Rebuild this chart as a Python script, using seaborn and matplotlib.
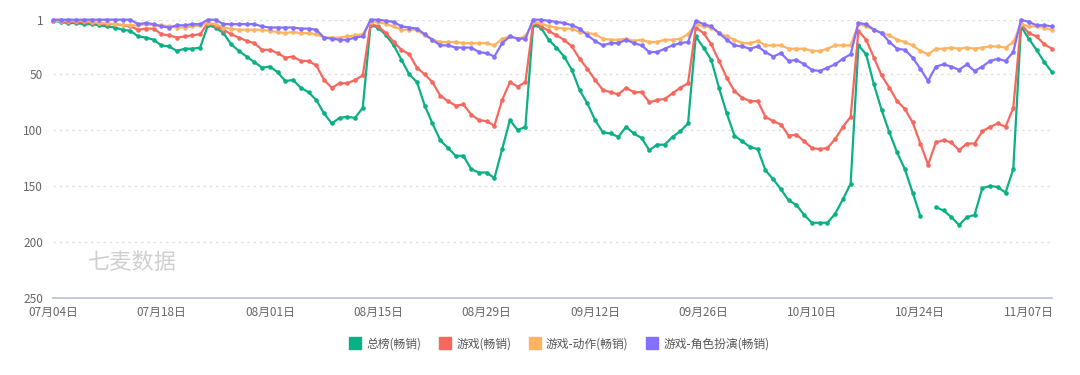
import numpy as np
import pandas as pd
import seaborn as sns
import matplotlib.pyplot as plt
from matplotlib.lines import Line2D

# daily ranks, 07-04 .. 11-10 (130 days), smaller = better
dates = pd.date_range("2021-07-04", "2021-11-10", freq="D")

series_names = ["总榜(畅销)", "游戏(畅销)", "游戏-动作(畅销)", "游戏-角色扮演(畅销)"]
colors = ["#0bb084", "#f6685e", "#fdb462", "#8470ff"]

rank_total = [
    2, 3, 4, 4, 5, 5, 6, 7, 8, 10,
    11, 16, 17, 19, 24, 25, 29, 27, 27, 26,
    6, 8, 13, 23, 29, 34, 39, 44, 43, 48,
    56, 55, 62, 66, 73, 85, 94, 89, 88, 89,
    80, 6, 8, 15, 24, 37, 50, 57, 78, 94,
    109, 116, 123, 123, 135, 138, 138, 143, 117, 91,
    100, 97, 6, 8, 19, 26, 34, 46, 64, 76,
    91, 102, 103, 106, 97, 103, 107, 118, 113, 113,
    106, 101, 94, 16, 26, 37, 62, 85, 105, 110,
    115, 117, 136, 144, 153, 163, 167, 176, 183, 183,
    183, 175, 162, 148, 24, 32, 59, 82, 102, 120,
    135, 156, 177, np.nan, 169, 172, 178, 185, 178, 176,
    152, 150, 151, 156, 135, 7, 18, 28, 39, 48,
]
rank_game = [
    2, 2, 3, 3, 3, 4, 4, 5, 5, 6,
    7, 10, 9, 9, 14, 15, 17, 16, 15, 14,
    4, 7, 10, 14, 17, 20, 22, 28, 28, 31,
    35, 34, 38, 38, 42, 55, 62, 58, 58, 55,
    51, 5, 7, 13, 21, 28, 32, 44, 50, 57,
    69, 74, 78, 77, 86, 91, 92, 96, 73, 57,
    61, 57, 4, 7, 11, 15, 19, 25, 36, 45,
    55, 64, 66, 68, 62, 66, 66, 75, 73, 72,
    67, 62, 58, 8, 13, 23, 38, 53, 65, 71,
    74, 74, 88, 92, 95, 105, 104, 110, 116, 117,
    116, 108, 97, 88, 11, 19, 35, 51, 62, 74,
    81, 93, 112, 131, 111, 109, 111, 118, 112, 112,
    101, 97, 94, 97, 80, 5, 13, 16, 23, 27,
]
rank_action = [
    2, 2, 2, 2, 2, 3, 4, 4, 5, 6,
    6, 6, 5, 6, 6, 7, 8, 8, 7, 6,
    4, 5, 8, 9, 10, 10, 10, 10, 11, 12,
    13, 12, 13, 13, 14, 17, 17, 17, 16, 15,
    14, 3, 3, 5, 7, 10, 10, 10, 15, 19,
    21, 21, 21, 22, 22, 22, 22, 24, 18, 16,
    18, 16, 3, 4, 7, 8, 9, 9, 12, 13,
    14, 18, 19, 19, 18, 20, 19, 21, 21, 19,
    19, 18, 14, 5, 7, 8, 13, 16, 19, 22,
    22, 20, 24, 24, 24, 27, 27, 27, 29, 29,
    27, 24, 24, 24, 5, 7, 10, 13, 15, 19,
    21, 24, 29, 32, 27, 27, 26, 27, 26, 27,
    26, 25, 25, 26, 21, 5, 7, 7, 8, 10,
]
rank_rpg = [
    1, 1, 1, 1, 1, 1, 1, 1, 1, 1,
    1, 5, 4, 5, 7, 8, 6, 6, 5, 5,
    1, 1, 5, 5, 5, 5, 5, 7, 8, 8,
    8, 8, 9, 9, 10, 17, 18, 19, 19, 17,
    16, 1, 1, 2, 3, 7, 8, 9, 14, 19,
    24, 24, 26, 26, 26, 30, 31, 34, 22, 16,
    18, 18, 1, 1, 2, 3, 4, 6, 9, 15,
    20, 24, 22, 22, 19, 22, 24, 30, 30, 27,
    24, 22, 21, 2, 5, 7, 13, 19, 24, 25,
    27, 25, 30, 34, 31, 38, 37, 41, 46, 47,
    44, 41, 36, 32, 4, 5, 10, 13, 21, 27,
    28, 35, 45, 56, 43, 41, 43, 46, 41, 47,
    43, 38, 36, 38, 30, 1, 3, 6, 6, 7,
]

tick_labels = ["07月04日", "07月18日", "08月01日", "08月15日", "08月29日",
               "09月12日", "09月26日", "10月10日", "10月24日", "11月07日"]
y_ticks = [1, 50, 100, 150, 200, 250]

# long table, split at missing days so the line breaks there
frames = []
for name, vals in zip(series_names, [rank_total, rank_game, rank_action, rank_rpg]):
    d = pd.DataFrame({"date": dates, "rank": vals, "series": name})
    d["seg"] = d["rank"].isna().cumsum()
    frames.append(d.dropna())
df = pd.concat(frames, ignore_index=True)

sns.set_theme(style="white")
plt.rcParams["font.family"] = ["Noto Sans CJK SC", "DejaVu Sans"]

fig = plt.figure(figsize=(10.8, 3.75), dpi=100)
ax = fig.add_axes([53 / 1080, 1 - 297.5 / 375, 999 / 1080, (297.5 - 19.7) / 375])

sns.lineplot(data=df, x="date", y="rank", hue="series", units="seg", estimator=None,
             hue_order=series_names, palette=dict(zip(series_names, colors)),
             marker="o", markersize=3.3, markeredgewidth=0, linewidth=1.6,
             legend=False, ax=ax, clip_on=False)

ax.set_ylim(250, 1)
ax.set_xlim(dates[0], dates[-1])
ax.set_yticks(y_ticks)
ax.set_xticks(dates[::14])
ax.set_xticklabels(tick_labels)
ax.set_xlabel("")
ax.set_ylabel("")

ax.grid(axis="y", color="#dedede", linestyle=(0, (2, 3)), linewidth=0.9)
ax.set_axisbelow(True)
for s in ["top", "right", "left"]:
    ax.spines[s].set_visible(False)
ax.spines["bottom"].set_color("#c3c9d6")
ax.spines["bottom"].set_linewidth(1.4)
ax.tick_params(axis="both", length=0, labelsize=8.5, labelcolor="#666666")
ax.tick_params(axis="x", pad=6)
ax.tick_params(axis="y", pad=7)

fig.text(0.081, 0.301, "七麦数据", fontsize=16, color="#d0d0d0", va="center")

handles = [Line2D([], [], marker="s", linestyle="", markersize=9, color=c) for c in colors]
fig.legend(handles, series_names, loc="center", bbox_to_anchor=(0.518, 0.083), ncol=4,
           frameon=False, fontsize=8.5, handlelength=1, handletextpad=0.45,
           columnspacing=1.5, labelcolor="#555555")

fig.savefig("out.png", dpi=100)
